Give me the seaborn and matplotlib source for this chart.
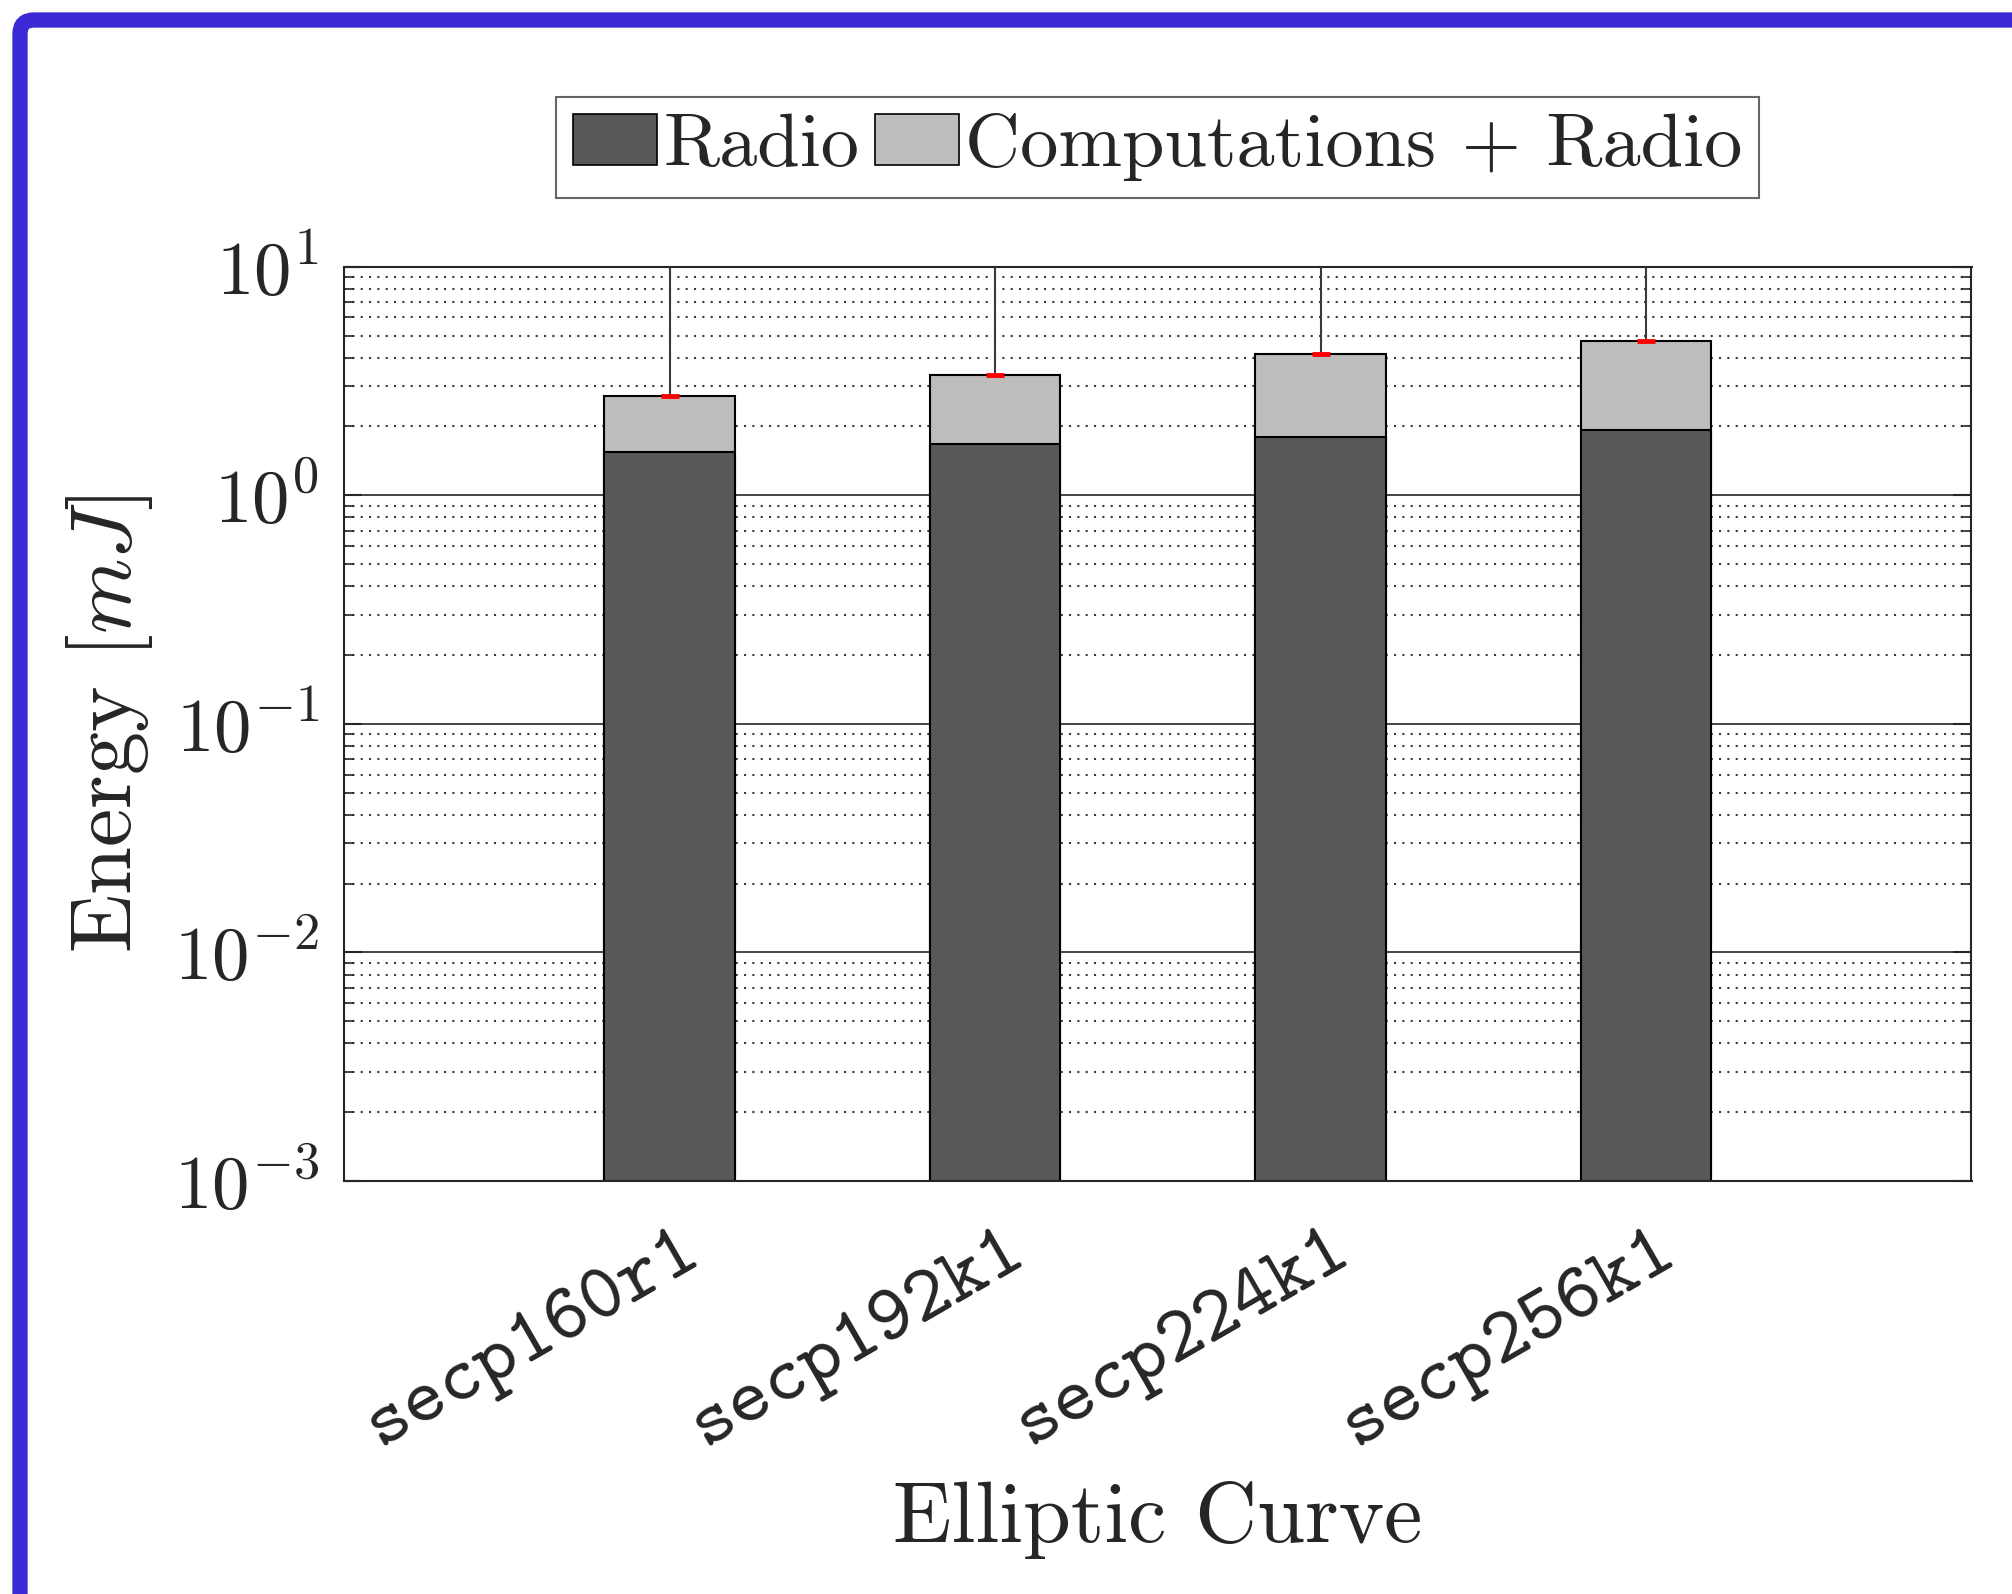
import seaborn as sns
import matplotlib.pyplot as plt
from matplotlib.patches import Patch, FancyBboxPatch
from matplotlib.transforms import IdentityTransform, ScaledTranslation

sns.set_theme(style="white")
plt.rcParams["font.family"] = ["cmr10", "DejaVu Serif"]
plt.rcParams["mathtext.fontset"] = "cm"
plt.rcParams["axes.formatter.use_mathtext"] = True
plt.rcParams["axes.unicode_minus"] = False

# Energy per elliptic curve (mJ)
curves = ["secp160r1", "secp192k1", "secp224k1", "secp256k1"]
radio = [1.55, 1.68, 1.79, 1.93]
total = [2.73, 3.36, 4.15, 4.73]
# upper end of the whiskers runs past the top of the axis
err_top = [12.0, 12.0, 12.0, 12.0]

dark = "#585858"
light = "#bdbdbd"
ink = "#262626"

fig = plt.figure(figsize=(20.12, 15.94), dpi=100)
ax = fig.add_axes([344 / 2012, 1 - 1181 / 1594, (1971.5 - 344) / 2012, (1181 - 266.7) / 1594])
ax.set_yscale("log")

# stacked look: total first, radio drawn over it
sns.barplot(x=curves, y=total, color=light, saturation=1, width=0.4,
            edgecolor="black", linewidth=1.5, ax=ax)
sns.barplot(x=curves, y=radio, color=dark, saturation=1, width=0.4,
            edgecolor="black", linewidth=1.5, ax=ax)

pos = range(len(curves))
lower = [0.0] * len(total)
upper = [t - v for t, v in zip(err_top, total)]
ax.errorbar(pos, total, yerr=[lower, upper], fmt="none", ecolor="#3a3a3a",
            elinewidth=1.5, capsize=0, zorder=5)
ax.plot(pos, total, ls="none", marker="_", color="red", ms=13, mew=3.5, zorder=6)

ax.set_xlim(-1, 4)
ax.set_ylim(1e-3, 10)
ax.set_axisbelow(True)
ax.grid(axis="y", which="major", color=ink, lw=1.2, ls="-")
ax.grid(axis="y", which="minor", color="#3a3a3a", lw=1.5, ls=(0, (1, 3)))
ax.grid(axis="x", visible=False)

for s in ax.spines.values():
    s.set_color(ink)
    s.set_linewidth(1.5)

ax.tick_params(axis="y", which="major", direction="in", length=13, width=1.5,
               left=True, right=True, color=ink, labelsize=54, pad=18, labelcolor=ink)
ax.tick_params(axis="y", which="minor", direction="in", length=7, width=1.2,
               left=True, right=True, color=ink)
ax.tick_params(axis="x", length=0, pad=25, labelcolor=ink)

ax.set_xticks(list(pos))
ax.set_xticklabels(curves, rotation=30, ha="right", va="top", rotation_mode="anchor",
                   family="cmtt10", fontsize=57)
shift = ScaledTranslation(0.08, 0, fig.dpi_scale_trans)
for lab in ax.get_xticklabels():
    lab.set_transform(lab.get_transform() + shift)

ax.set_xlabel("Elliptic Curve", fontsize=62, color=ink)
ax.xaxis.set_label_coords(0.5, -0.328)
ax.set_ylabel(r"Energy $[mJ]$", fontsize=62, color=ink)
ax.yaxis.set_label_coords(-0.116, 0.5)

handles = [Patch(facecolor=dark, edgecolor="black", lw=1.2),
           Patch(facecolor=light, edgecolor="black", lw=1.2)]
leg = ax.legend(handles, ["Radio", "Computations + Radio"], loc="lower center",
                bbox_to_anchor=(0.5, 1.075), ncol=2, fontsize=55, frameon=True,
                fancybox=False, edgecolor="#666666", framealpha=1,
                handlelength=1.1, handleheight=0.66, handletextpad=0.08,
                columnspacing=0.2, borderpad=0.22, borderaxespad=0)
leg.get_frame().set_linewidth(1.5)

# blue frame of the screenshot, cut at the right and bottom
frame = FancyBboxPatch((20, -60), 2200, 1594 - 20 + 60,
                       boxstyle="round,pad=0,rounding_size=14",
                       transform=IdentityTransform(), facecolor="none",
                       edgecolor="#3b29d3", linewidth=11)
fig.add_artist(frame)

fig.savefig("out.png", dpi=100)
